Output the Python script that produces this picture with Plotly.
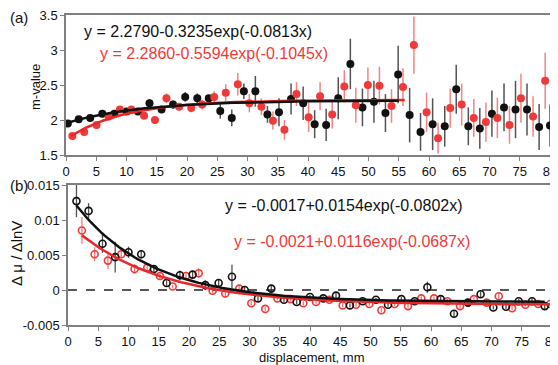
import numpy as np
import plotly.graph_objects as go

# The page body has an 8px margin, so the figure is drawn 8px smaller and offset.
OFF = 8
W, H = 558 - OFF, 365 - OFF

# ---------- panel (a): m-value ----------
a_black_x = [0.3, 2.1, 4.0, 6.0, 8.0, 10.0, 11.9, 13.8, 15.8, 17.7, 19.7, 21.7, 23.6, 25.5, 27.4,
             29.4, 31.3, 33.3, 35.2, 37.2, 39.2, 41.1, 43.0, 45.0, 47.0, 49.0, 50.9, 52.8, 54.9,
             56.8, 58.6, 60.6, 62.6, 64.5, 66.5, 68.4, 70.4, 72.4, 74.3, 76.2, 78.2, 80.0]
a_black_y = [1.95, 2.01, 2.03, 2.09, 2.09, 2.12, 2.12, 2.24, 2.15, 2.22, 2.33, 2.31, 2.31, 2.13, 2.03,
             2.41, 2.41, 2.08, 2.11, 2.30, 2.24, 1.94, 1.93, 2.31, 2.80, 2.18, 2.26, 2.10, 2.65,
             2.07, 1.83, 1.94, 1.91, 2.44, 1.91, 1.88, 2.09, 2.18, 2.15, 2.15, 1.90, 1.92]
a_black_err = [0.02, 0.02, 0.02, 0.03, 0.03, 0.03, 0.04, 0.06, 0.05, 0.06, 0.07, 0.07, 0.05, 0.11, 0.12,
               0.11, 0.22, 0.12, 0.20, 0.22, 0.24, 0.20, 0.23, 0.30, 0.36, 0.27, 0.30, 0.27, 0.41,
               0.39, 0.27, 0.37, 0.29, 0.35, 0.27, 0.29, 0.33, 0.34, 0.41, 0.37, 0.33, 0.30]

a_red_x = [1.05, 3.0, 5.05, 7.05, 8.9, 10.8, 12.9, 14.7, 16.6, 18.7, 20.7, 22.5, 24.5, 26.4, 28.4,
           30.3, 32.3, 34.2, 36.1, 38.1, 40.1, 42.0, 44.0, 46.0, 47.9, 49.9, 51.8, 53.8, 55.7,
           57.5, 59.6, 61.5, 63.5, 65.4, 67.4, 69.4, 71.3, 73.3, 75.2, 77.2, 79.2]
a_red_y = [1.77, 1.83, 1.93, 2.05, 2.15, 2.15, 2.06, 2.00, 2.31, 2.19, 2.17, 2.22, 2.33, 2.39, 2.51,
           2.24, 2.19, 1.99, 1.86, 2.37, 2.04, 2.34, 2.08, 2.48, 2.21, 2.50, 2.49, 2.20, 2.47,
           3.07, 2.11, 1.74, 2.17, 2.22, 2.03, 1.97, 2.03, 1.93, 2.31, 2.05, 2.56]
a_red_err = [0.03, 0.03, 0.03, 0.03, 0.04, 0.04, 0.04, 0.05, 0.07, 0.05, 0.06, 0.07, 0.08, 0.12, 0.16,
             0.13, 0.12, 0.13, 0.14, 0.17, 0.21, 0.20, 0.20, 0.23, 0.25, 0.25, 0.27, 0.24, 0.27,
             0.41, 0.28, 0.22, 0.28, 0.30, 0.27, 0.28, 0.29, 0.27, 0.35, 0.29, 0.40]

# fit parameters (a): y = A + B*exp(C*x), x range
a_black_fit = [2.2790, -0.3235, -0.0813, 0.0, 55.0]
a_red_fit = [2.2860, -0.5594, -0.1045, 0.8, 56.0]

# ---------- panel (b): d mu / d lnV ----------
b_black_x = [1.4, 3.4, 5.7, 7.8, 10.0, 12.1, 14.2, 16.3, 18.5, 20.6, 22.7, 24.9, 27.1, 29.2, 31.4,
             33.6, 35.7, 37.8, 40.0, 42.2, 44.3, 46.6, 48.7, 50.9, 52.9, 55.1, 57.3, 59.4, 61.6,
             63.8, 66.1, 68.2, 70.3, 72.4, 74.5, 76.7, 78.8]
b_black_y = [0.0127, 0.0113, 0.0066, 0.0047, 0.0054, 0.0051, 0.0030, 0.0010, 0.0021, 0.0022,
             0.0007, 0.0010, 0.0019, 0.0000, -0.0012, 0.0002, -0.0014, -0.0017, -0.0010, -0.0012,
             -0.0008, -0.0022, -0.0016, -0.0014, -0.0021, -0.0013, -0.0016, 0.0004, -0.0013, -0.0034,
             -0.0018, -0.0006, -0.0025, -0.0024, -0.0016, -0.0016, -0.0023]
b_black_err = [0.0023, 0.0011, 0.0013, 0.0022, 0.0008, 0.0006, 0.0005, 0.0004, 0.0007, 0.0006,
               0.0007, 0.0005, 0.0017, 0.0005, 0.0004, 0.0005, 0.0003, 0.0003, 0.0003, 0.0003,
               0.0004, 0.0003, 0.0003, 0.0003, 0.0003, 0.0003, 0.0003, 0.0008, 0.0004, 0.0005,
               0.0004, 0.0004, 0.0003, 0.0003, 0.0003, 0.0004, 0.0004]

b_red_x = [2.3, 4.4, 6.6, 8.8, 11.0, 13.1, 15.2, 17.3, 19.5, 21.6, 23.9, 26.0, 28.3, 30.3, 32.6,
           34.6, 36.8, 38.9, 41.0, 43.2, 45.4, 47.6, 49.8, 51.8, 54.0, 56.2, 58.4, 60.5, 62.7,
           64.8, 67.1, 69.2, 71.2, 73.4, 75.6, 77.7, 79.7]
b_red_y = [0.0085, 0.0051, 0.0042, 0.0051, 0.0030, 0.0032, 0.0020, 0.0005, 0.0020, 0.0024,
           -0.0001, -0.0005, 0.0002, -0.0019, -0.0027, -0.0012, -0.0013, -0.0019, -0.0017, -0.0014,
           -0.0022, -0.0021, -0.0020, -0.0029, -0.0020, -0.0023, -0.0012, -0.0012, -0.0016, -0.0023,
           -0.0013, -0.0018, -0.0009, -0.0026, -0.0021, -0.0020, -0.0020]
b_red_err = [0.0019, 0.0010, 0.0012, 0.0004, 0.0007, 0.0005, 0.0005, 0.0003, 0.0004, 0.0007,
             0.0004, 0.0006, 0.0005, 0.0003, 0.0003, 0.0003, 0.0003, 0.0003, 0.0003, 0.0003,
             0.0003, 0.0003, 0.0003, 0.0003, 0.0003, 0.0003, 0.0003, 0.0003, 0.0003, 0.0003,
             0.0003, 0.0003, 0.0004, 0.0003, 0.0003, 0.0003, 0.0003]

b_black_fit = [-0.0017, 0.0154, -0.0802, 1.4, 78.8]
b_red_fit = [-0.0021, 0.0116, -0.0687, 2.3, 80.0]

eq_a_black = "y = 2.2790-0.3235exp(-0.0813x)"
eq_a_red = "y = 2.2860-0.5594exp(-0.1045x)"
eq_b_black = "y = -0.0017+0.0154exp(-0.0802x)"
eq_b_red = "y = -0.0021+0.0116exp(-0.0687x)"

a_xticks = list(range(0, 81, 5))
a_yticks = [1.5, 2, 2.5, 3, 3.5]
a_ytext = ["1.5", "2", "2.5", "3", "3.5"]
b_yticks = [-0.005, 0, 0.005, 0.01, 0.015]
b_ytext = ["-0.005", "0", "0.005", "0.01", "0.015"]

BLACK = "#111111"
RED = "#f03a3a"
FONT = "Liberation Sans, Arial, sans-serif"


def fit_curve(p):
    xs = np.linspace(p[3], p[4], 200)
    return xs, p[0] + p[1] * np.exp(p[2] * xs)


def px(x):
    return (x - OFF) / W


def py(y):
    return 1 - (y - OFF) / H


fig = go.Figure()

# panel (a) points
fig.add_trace(go.Scatter(x=a_black_x, y=a_black_y, mode="markers", xaxis="x", yaxis="y",
                         marker=dict(color=BLACK, size=8),
                         error_y=dict(type="data", array=a_black_err, color="rgba(40,40,40,0.8)",
                                      thickness=1.5, width=0),
                         showlegend=False))
fig.add_trace(go.Scatter(x=a_red_x, y=a_red_y, mode="markers", xaxis="x", yaxis="y",
                         marker=dict(color=RED, size=8),
                         error_y=dict(type="data", array=a_red_err, color="rgba(240,90,90,0.75)",
                                      thickness=1.5, width=0),
                         showlegend=False))
for p, c in [(a_red_fit, "#e82828"), (a_black_fit, BLACK)]:
    xs, ys = fit_curve(p)
    fig.add_trace(go.Scatter(x=xs, y=ys, mode="lines", xaxis="x", yaxis="y",
                             line=dict(color=c, width=2.5), showlegend=False))

# panel (b) points
fig.add_trace(go.Scatter(x=b_red_x, y=b_red_y, mode="markers", xaxis="x2", yaxis="y2",
                         marker=dict(color="rgba(0,0,0,0)", size=7, line=dict(color=RED, width=1.6)),
                         error_y=dict(type="data", array=b_red_err, color="rgba(240,90,90,0.8)",
                                      thickness=1.3, width=0),
                         showlegend=False))
fig.add_trace(go.Scatter(x=b_black_x, y=b_black_y, mode="markers", xaxis="x2", yaxis="y2",
                         marker=dict(color="rgba(0,0,0,0)", size=7, line=dict(color=BLACK, width=1.6)),
                         error_y=dict(type="data", array=b_black_err, color="rgba(40,40,40,0.8)",
                                      thickness=1.3, width=0),
                         showlegend=False))
for p, c in [(b_red_fit, "#e82828"), (b_black_fit, BLACK)]:
    xs, ys = fit_curve(p)
    fig.add_trace(go.Scatter(x=xs, y=ys, mode="lines", xaxis="x2", yaxis="y2",
                             line=dict(color=c, width=2.5), showlegend=False))

axis_common = dict(showgrid=False, zeroline=False, showline=True, mirror=True, automargin=False,
                   linecolor="#808080", linewidth=1.5, ticks="outside", ticklen=4,
                   tickcolor="#808080", ticklabeloverflow="allow",
                   tickfont=dict(family=FONT, size=13, color="#111"))

fig.update_layout(
    template="none",
    width=W, height=H, margin=dict(l=0, r=0, t=0, b=0, pad=0),
    paper_bgcolor="white", plot_bgcolor="white",
    xaxis=dict(axis_common, domain=[px(66), px(550)], range=[0, 80], tickvals=a_xticks,
               anchor="y"),
    yaxis=dict(axis_common, domain=[py(155), py(15)], range=[1.5, 3.5], tickvals=a_yticks,
               ticktext=a_ytext, anchor="x"),
    xaxis2=dict(axis_common, domain=[px(68), px(552)], range=[0, 80], tickvals=a_xticks,
                anchor="y2"),
    yaxis2=dict(axis_common, domain=[py(325), py(185)], range=[-0.005, 0.015], tickvals=b_yticks,
                ticktext=b_ytext, anchor="x2"),
    shapes=[dict(type="line", xref="x2", yref="y2", x0=0, x1=80, y0=0, y1=0,
                 line=dict(color="#222", width=1.3, dash="dash"), layer="below")],
)


def ann(text, x, y, size, color="#111", rot=0, xanchor="left"):
    fig.add_annotation(text=text, x=px(x), y=py(y), xref="paper", yref="paper",
                       xanchor=xanchor, yanchor="middle", showarrow=False, textangle=rot,
                       font=dict(family=FONT, size=size, color=color))


ann(eq_a_black, 82, 32, 16)
ann(eq_a_red, 98, 53, 16, RED)
ann(eq_b_black, 223, 205, 16)
ann(eq_b_red, 232, 241, 16, RED)
ann("(a)", 8, 17, 15)
ann("(b)", 8, 185, 15)
ann("m-value", 35, 87, 13, rot=-90, xanchor="center")
ann("Δ μ / ΔlnV", 16, 254, 15, rot=-90, xanchor="center")
ann("displacement, mm", 311, 357, 13, xanchor="center")

fig.write_html("out.html")
